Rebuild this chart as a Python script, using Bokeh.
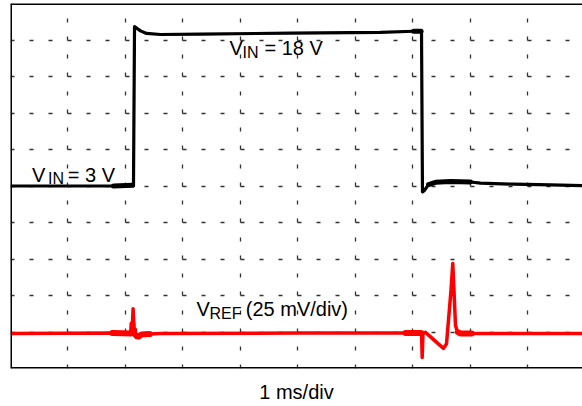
import numpy as np
from bokeh.plotting import figure
from bokeh.models import Span, Label, Range1d, FixedTicker
from bokeh.embed import file_html
from bokeh.resources import INLINE

# Horizontal axis: time in divisions (1 ms/div); vertical axis: screen divisions
vin_t = [0.0, 1.791, 2.122, 2.139, 2.157, 2.191, 2.261, 2.365, 2.609, 3.304,
         4.870, 6.435, 7.009, 7.148, 7.165, 7.200, 7.270, 7.391, 7.652, 8.000,
         8.174, 8.748, 9.391, 9.948]
vin_v = [5.00, 5.00, 5.02, 5.01, 9.37, 9.33, 9.25, 9.18, 9.15, 9.16,
         9.19, 9.21, 9.24, 9.24, 4.84, 4.88, 5.04, 5.10, 5.12, 5.11,
         5.08, 5.05, 5.03, 5.01]

vref_t = [0.0, 1.791, 2.113, 2.132, 2.153, 2.209, 2.278, 2.600, 5.000, 7.009,
          7.148, 7.160, 7.174, 7.217, 7.530, 7.583, 7.617, 7.661, 7.692, 7.713,
          7.739, 7.774, 7.826, 8.000, 9.948]
vref_v = [0.96, 0.97, 0.96, 1.64, 0.96, 0.86, 0.93, 0.96, 0.97, 0.97,
          0.97, 0.30, 0.96, 0.99, 0.55, 0.68, 1.32, 2.14, 2.88, 2.14,
          1.18, 1.00, 0.96, 0.96, 0.96]

# time spans where the sampled trace is dense and shows as a heavier stroke
vin_dense = [(1.79, 2.12), (7.01, 7.14), (7.27, 8.00)]
vref_dense = [(1.77, 2.12), (2.15, 2.42), (6.87, 7.14), (7.78, 8.02)]

grid_x = [1, 2, 3, 4, 5, 6, 7, 8, 9]
grid_y = [1, 2, 3, 4, 5, 6, 7, 8, 9]

FONT = "Liberation Sans"


def dense_segments(t, v, spans):
    t = np.asarray(t)
    v = np.asarray(v)
    xs, ys = [], []
    for a, b in spans:
        inner = (t > a) & (t < b)
        st = np.concatenate([[a], t[inner], [b]])
        xs.append(list(st))
        ys.append(list(np.interp(st, t, v)))
    return xs, ys


p = figure(width=582, height=406, output_backend="svg", toolbar_location=None,
           x_range=Range1d(0, 9.948), y_range=Range1d(0, 10),
           x_axis_location="below", y_axis_location=None,
           min_border_left=10, min_border_right=0,
           min_border_top=3, min_border_bottom=38)
p.outline_line_color = None
p.background_fill_color = "white"
p.border_fill_color = "white"

# time-base caption carried by a bare x axis
ax = p.xaxis[0]
ax.ticker = FixedTicker(ticks=[])
ax.axis_line_color = None
ax.major_tick_line_color = None
ax.minor_tick_line_color = None
ax.major_tick_out = 0
ax.minor_tick_out = 0
ax.major_label_standoff = 0
ax.axis_label = "1 ms/div"
ax.axis_label_text_font = FONT
ax.axis_label_text_font_size = "20px"
ax.axis_label_text_font_style = "normal"
ax.axis_label_text_color = "black"
ax.axis_label_standoff = 12

# dashed graticule
p.xgrid.ticker = FixedTicker(ticks=grid_x)
p.ygrid.ticker = FixedTicker(ticks=grid_y)
p.xgrid.grid_line_color = "#333333"
p.ygrid.grid_line_color = "#333333"
p.xgrid.grid_line_width = 1.3
p.ygrid.grid_line_width = 1.3
p.xgrid.grid_line_dash = "4 14 4 14 4 14 4 15"
p.ygrid.grid_line_dash = "4 15 4 15 4 15 4 15 4 15 4 16"

# screen border (left, top, bottom)
for loc, dim in [(0, "height"), (10, "width"), (0, "width")]:
    p.add_layout(Span(location=loc, dimension=dim, line_color="black", line_width=3))

# V_REF trace
p.line(vref_t, vref_v, line_color="#ff0000", line_width=3.5, line_join="round")
rx, ry = dense_segments(vref_t, vref_v, vref_dense)
p.multi_line(rx, ry, line_color="#ff0000", line_width=6, line_cap="round")

# V_IN trace
p.line(vin_t, vin_v, line_color="black", line_width=3.2, line_join="round")
bx, by = dense_segments(vin_t, vin_v, vin_dense)
p.multi_line(bx, by, line_color="black", line_width=5, line_cap="round")


def add_label(x, y, text, size):
    p.add_layout(Label(x=x, y=y, text=text, text_font=FONT, text_font_size=size,
                       text_color="black", text_baseline="alphabetic",
                       text_align="left"))


# V_IN = 3 V
add_label(0.374, 5.288, "V", "20px")
add_label(0.654, 5.192, "IN", "16px")
add_label(0.997, 5.288, "= 3 V", "20px")

# V_IN = 18 V
add_label(3.809, 8.786, "V", "20px")
add_label(4.035, 8.671, "IN", "16px")
add_label(4.417, 8.786, "= 18 V", "20px")

# V_REF (25 mV/div)
add_label(3.235, 1.636, "V", "20px")
add_label(3.461, 1.507, "REF", "16px")
add_label(4.092, 1.636, "(25 mV/div)", "20px")

open("out.html", "w").write(file_html(p, INLINE))
